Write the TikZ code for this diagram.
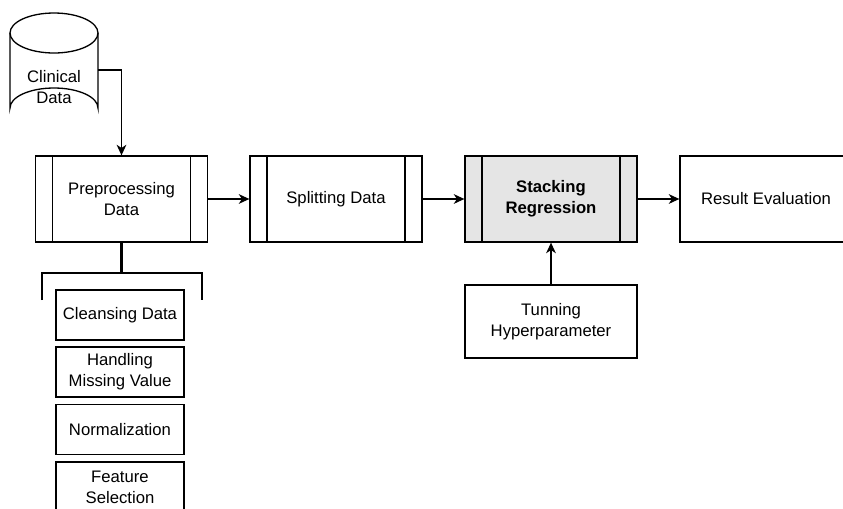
\documentclass[tikz,border=0pt]{standalone}
\usepackage{fontspec}
\setmainfont{Liberation Sans}
\usetikzlibrary{calc,arrows.meta}
\tikzset{
  every node/.style={font=\fontsize{9.5}{12}\selectfont, align=center},
  proc/.style={draw, line width=0.75pt, minimum width=3.44cm, minimum height=1.72cm, inner sep=0pt,
    path picture={
      \draw[line width=0.75pt] ([xshift=0.34cm]path picture bounding box.north west) -- ([xshift=0.34cm]path picture bounding box.south west);
      \draw[line width=0.75pt] ([xshift=-0.34cm]path picture bounding box.north east) -- ([xshift=-0.34cm]path picture bounding box.south east);
    }},
  plain/.style={draw, line width=0.75pt, minimum width=3.44cm, minimum height=1.72cm, inner sep=0pt},
  substep/.style={draw, line width=0.75pt, minimum width=2.56cm, minimum height=1.0cm, inner sep=0pt},
  link/.style={line width=0.75pt, -{Stealth[length=6pt, width=5.5pt, inset=1.8pt]}}
}

\begin{document}
\begin{tikzpicture}[x=0.02cm, y=-0.02cm]
                \useasboundingbox (0,0) rectangle (843,508);
                \clip (0,0) rectangle (843,508);

                % clinical data cylinder
                \draw[line width=0.75pt] (10,33) -- (10,108) arc[start angle=180, end angle=360, x radius=44, y radius=20]
                    -- (98,33);
                \draw[line width=0.75pt] (54,33) ellipse[x radius=44, y radius=20];
                \node (clinical) at (54,87) {Clinical\\Data};
                \coordinate (clinout) at (98,70);

                \node[proc] (prep) at (121.5,199) {Preprocessing\\Data};
                \node[proc] (split) at (336,199) {Splitting Data};
                \node[proc, fill=gray!20, font=\fontsize{9.5}{12}\selectfont\bfseries] (stack) at (551,199) {Stacking\\Regression};
                \node[plain] (result) at (766,199) {Result Evaluation};
                \node[plain, minimum height=1.46cm] (tune) at (551,321.5) {Tunning\\Hyperparameter};

                \draw[link] (clinout) -| (prep.north);
                \draw[link] (prep) -- (split);
                \draw[link] (split) -- (stack);
                \draw[link] (stack) -- (result);
                \draw[link] (tune) -- (stack);

                % bracket
                \coordinate (brmid) at (121.5,273);
                \draw[line width=1.3pt] (prep.south) -- (brmid);
                \draw[line width=1.3pt] (42,300) -- (42,273) -- (202,273) -- (202,300);

                \node[substep] (clean) at (120,315) {Cleansing Data};
                \node[substep] (missing) at (120,372) {Handling\\Missing Value};
                \node[substep] (norm) at (120,429.5) {Normalization};
                \node[substep] (feature) at (120,487) {Feature\\Selection};
            \end{tikzpicture}
\end{document}
